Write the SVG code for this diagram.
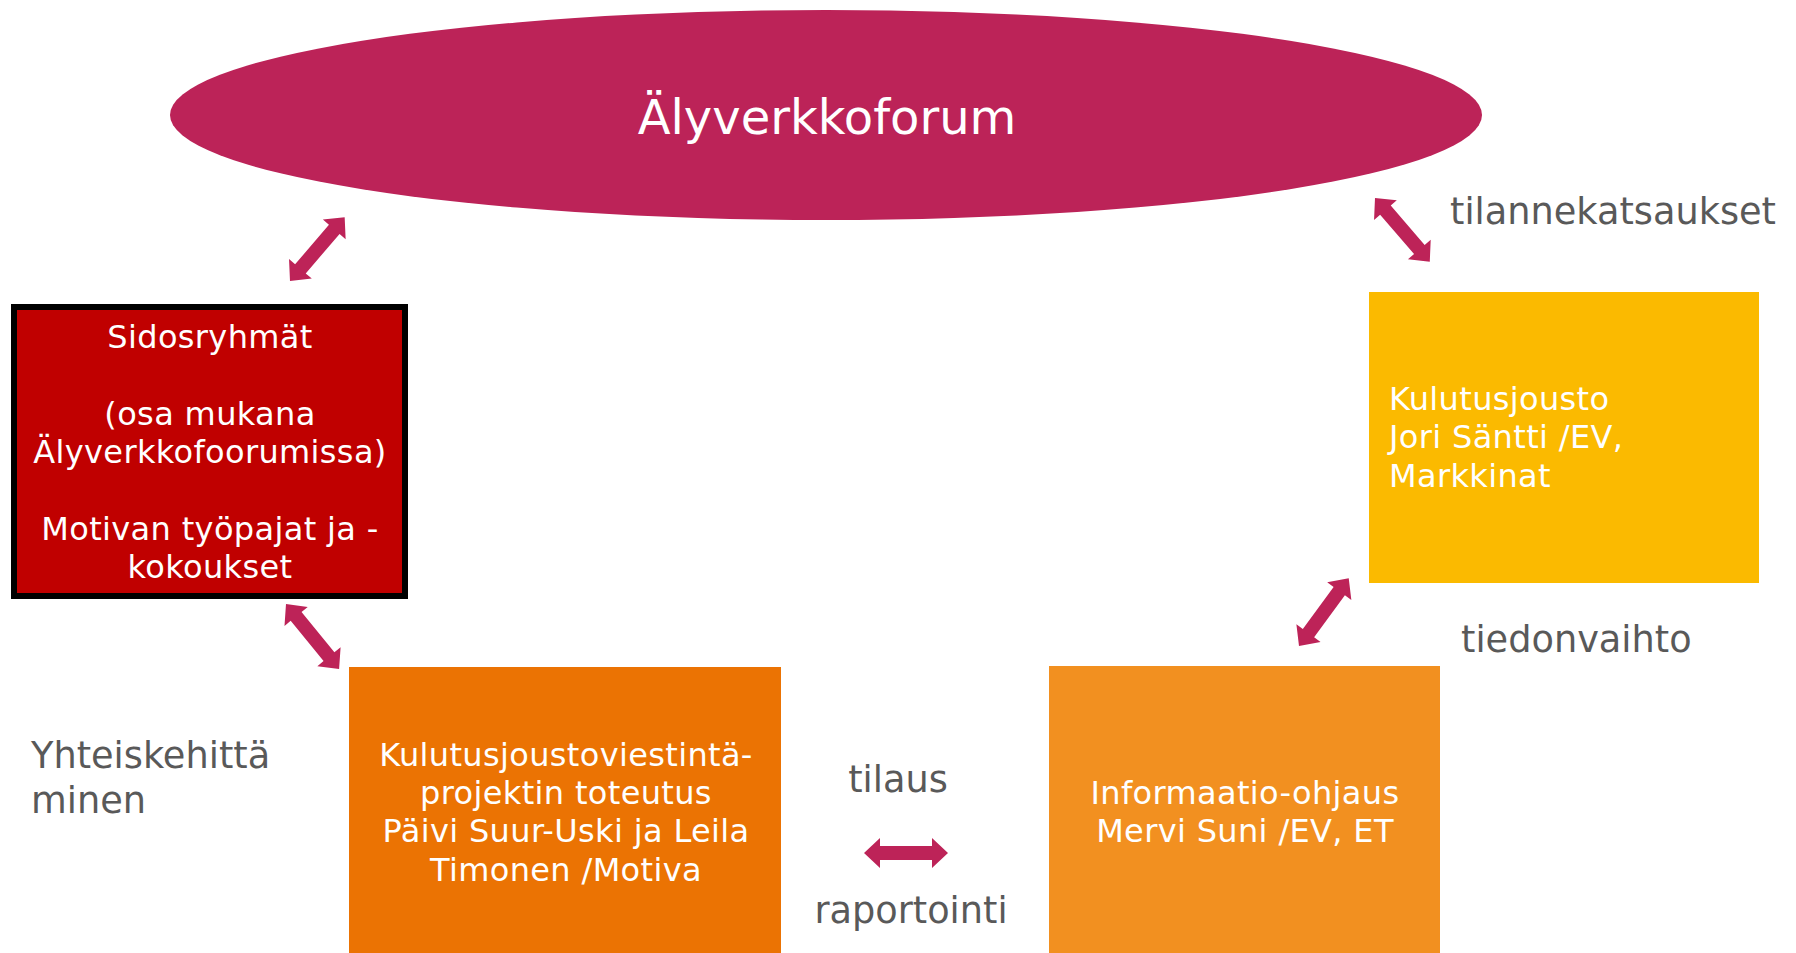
<svg xmlns="http://www.w3.org/2000/svg" xmlns:xlink="http://www.w3.org/1999/xlink" width="1796" height="953" viewBox="0 0 1796 953">
<style>
text{font-family:"DejaVu Sans","Liberation Sans",sans-serif;}
.w{fill:#FFFFFF;font-size:32px;letter-spacing:0.35px;}
.c{text-anchor:middle;}
.lbl{fill:#595959;font-size:36.7px;}
.arrow{fill:#BD2358;}
</style>
<defs>
<path id="dbl" d="M0,0 L16,-15 L16,-7 L68,-7 L68,-15 L84,0 L68,15 L68,7 L16,7 L16,15 Z"/>
</defs>
<rect width="1796" height="953" fill="#FFFFFF"/>
<g id="forum">
<ellipse cx="826" cy="115" rx="656" ry="105" fill="#BC2358"/>
<text x="827" y="134" class="c" fill="#FFFFFF" font-size="48">Älyverkkoforum</text>
</g>
<g id="sidosryhmat">
<rect x="14" y="307" width="391" height="289" fill="#C00000" stroke="#000000" stroke-width="6"/>
<text class="w c" x="210" y="348">Sidosryhmät</text>
<text class="w c" x="210" y="425">(osa mukana</text>
<text class="w c" x="210" y="463">Älyverkkofoorumissa)</text>
<text class="w c" x="210" y="540">Motivan työpajat ja -</text>
<text class="w c" x="210" y="578">kokoukset</text>
</g>
<g id="kulutusjousto">
<rect x="1369" y="292" width="390" height="291" fill="#FBBA00"/>
<text class="w" x="1389" y="410">Kulutusjousto</text>
<text class="w" x="1389" y="448">Jori Säntti /EV,</text>
<text class="w" x="1389" y="487">Markkinat</text>
</g>
<g id="projekti">
<rect x="349" y="667" width="432" height="286" fill="#EB7303"/>
<text class="w c" x="566" y="766">Kulutusjoustoviestintä-</text>
<text class="w c" x="566" y="804">projektin toteutus</text>
<text class="w c" x="566" y="842">Päivi Suur-Uski ja Leila</text>
<text class="w c" x="566" y="881">Timonen /Motiva</text>
</g>
<g id="informaatio">
<rect x="1049" y="666" width="391" height="287" fill="#F29020"/>
<text class="w c" x="1245" y="804">Informaatio-ohjaus</text>
<text class="w c" x="1245" y="842">Mervi Suni /EV, ET</text>
</g>
<g id="labels">
<text class="lbl" x="1450" y="224">tilannekatsaukset</text>
<text class="lbl" x="1461" y="652">tiedonvaihto</text>
<text class="lbl" x="31" y="768">Yhteiskehittä</text>
<text class="lbl" x="31" y="813">minen</text>
<text class="lbl c" x="898" y="792">tilaus</text>
<text class="lbl c" x="911" y="923">raportointi</text>
</g>
<g id="connectors" class="arrow">
<use xlink:href="#dbl" transform="translate(290,281) rotate(-49.4)"/>
<use xlink:href="#dbl" transform="translate(286,604) rotate(50.8)"/>
<use xlink:href="#dbl" transform="translate(1375,198) rotate(49.3)"/>
<use xlink:href="#dbl" transform="translate(1299,646) rotate(-53.7)"/>
<use xlink:href="#dbl" transform="translate(864,853)"/>
</g>
</svg>
